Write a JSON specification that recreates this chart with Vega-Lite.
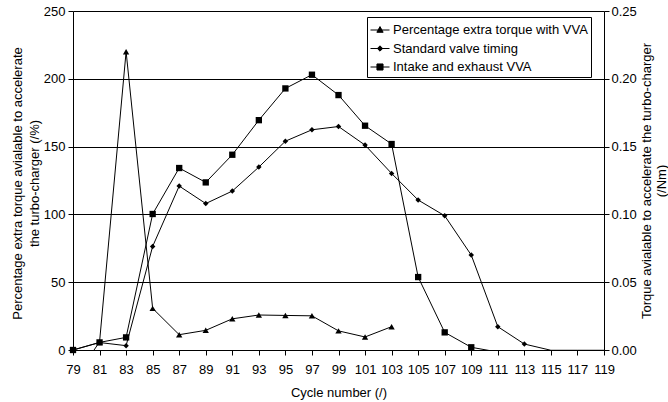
{
  "$schema": "https://vega.github.io/schema/vega-lite/v6.json",
  "width": 531,
  "height": 339,
  "autosize": {"type": "none"},
  "padding": {"left": 73, "top": 11, "right": 64, "bottom": 52},
  "background": "white",
  "config": {
    "view": {"stroke": null},
    "font": "Liberation Sans",
    "axis": {
      "domainColor": "black",
      "tickColor": "black",
      "labelColor": "black",
      "titleColor": "black",
      "gridColor": "black",
      "labelFont": "Liberation Sans",
      "titleFont": "Liberation Sans",
      "labelFontSize": 13,
      "titleFontSize": 13,
      "titleFontWeight": "normal",
      "tickSize": 5
    },
    "legend": {
      "labelFont": "Liberation Sans",
      "labelFontSize": 13,
      "labelColor": "black",
      "labelLimit": 0,
      "symbolStrokeColor": "black",
      "symbolStrokeWidth": 1
    }
  },
  "data": {
    "values": [
      {"cycle": 79, "series": "Percentage extra torque with VVA", "value": -23},
      {"cycle": 81, "series": "Percentage extra torque with VVA", "value": 6},
      {"cycle": 83, "series": "Percentage extra torque with VVA", "value": 220},
      {"cycle": 85, "series": "Percentage extra torque with VVA", "value": 30.7},
      {"cycle": 87, "series": "Percentage extra torque with VVA", "value": 11.3},
      {"cycle": 89, "series": "Percentage extra torque with VVA", "value": 14.5},
      {"cycle": 91, "series": "Percentage extra torque with VVA", "value": 23},
      {"cycle": 93, "series": "Percentage extra torque with VVA", "value": 25.8},
      {"cycle": 95, "series": "Percentage extra torque with VVA", "value": 25.5},
      {"cycle": 97, "series": "Percentage extra torque with VVA", "value": 25.2},
      {"cycle": 99, "series": "Percentage extra torque with VVA", "value": 14.1},
      {"cycle": 101, "series": "Percentage extra torque with VVA", "value": 9.6},
      {"cycle": 103, "series": "Percentage extra torque with VVA", "value": 17.2},
      {"cycle": 79, "series": "Standard valve timing", "value": 0},
      {"cycle": 81, "series": "Standard valve timing", "value": 0.0055},
      {"cycle": 83, "series": "Standard valve timing", "value": 0.0032},
      {"cycle": 85, "series": "Standard valve timing", "value": 0.0764},
      {"cycle": 87, "series": "Standard valve timing", "value": 0.1209},
      {"cycle": 89, "series": "Standard valve timing", "value": 0.108},
      {"cycle": 91, "series": "Standard valve timing", "value": 0.1172},
      {"cycle": 93, "series": "Standard valve timing", "value": 0.1349},
      {"cycle": 95, "series": "Standard valve timing", "value": 0.154},
      {"cycle": 97, "series": "Standard valve timing", "value": 0.1624},
      {"cycle": 99, "series": "Standard valve timing", "value": 0.1648},
      {"cycle": 101, "series": "Standard valve timing", "value": 0.1511},
      {"cycle": 103, "series": "Standard valve timing", "value": 0.1302},
      {"cycle": 105, "series": "Standard valve timing", "value": 0.1106},
      {"cycle": 107, "series": "Standard valve timing", "value": 0.099},
      {"cycle": 109, "series": "Standard valve timing", "value": 0.07},
      {"cycle": 111, "series": "Standard valve timing", "value": 0.0172},
      {"cycle": 113, "series": "Standard valve timing", "value": 0.0044},
      {"cycle": 115, "series": "Standard valve timing", "value": -0.0002},
      {"cycle": 117, "series": "Standard valve timing", "value": -0.0002},
      {"cycle": 119, "series": "Standard valve timing", "value": -0.0002},
      {"cycle": 79, "series": "Intake and exhaust VVA", "value": 0},
      {"cycle": 81, "series": "Intake and exhaust VVA", "value": 0.0056},
      {"cycle": 83, "series": "Intake and exhaust VVA", "value": 0.0093},
      {"cycle": 85, "series": "Intake and exhaust VVA", "value": 0.1003},
      {"cycle": 87, "series": "Intake and exhaust VVA", "value": 0.1342},
      {"cycle": 89, "series": "Intake and exhaust VVA", "value": 0.1236},
      {"cycle": 91, "series": "Intake and exhaust VVA", "value": 0.144},
      {"cycle": 93, "series": "Intake and exhaust VVA", "value": 0.1695},
      {"cycle": 95, "series": "Intake and exhaust VVA", "value": 0.1929},
      {"cycle": 97, "series": "Intake and exhaust VVA", "value": 0.203},
      {"cycle": 99, "series": "Intake and exhaust VVA", "value": 0.188},
      {"cycle": 101, "series": "Intake and exhaust VVA", "value": 0.1654},
      {"cycle": 103, "series": "Intake and exhaust VVA", "value": 0.1519},
      {"cycle": 105, "series": "Intake and exhaust VVA", "value": 0.0538},
      {"cycle": 107, "series": "Intake and exhaust VVA", "value": 0.013},
      {"cycle": 109, "series": "Intake and exhaust VVA", "value": 0.002},
      {"cycle": 111, "series": "Intake and exhaust VVA", "value": -0.0015},
      {"cycle": 113, "series": "Intake and exhaust VVA", "value": -0.0015},
      {"cycle": 115, "series": "Intake and exhaust VVA", "value": -0.0015},
      {"cycle": 117, "series": "Intake and exhaust VVA", "value": -0.0015},
      {"cycle": 119, "series": "Intake and exhaust VVA", "value": -0.0015}
    ]
  },
  "encoding": {
    "x": {
      "field": "cycle",
      "type": "quantitative",
      "scale": {"domain": [79, 119], "nice": false, "zero": false},
      "axis": {
        "title": "Cycle number (/)",
        "values": [79, 81, 83, 85, 87, 89, 91, 93, 95, 97, 99, 101, 103, 105, 107, 109, 111, 113, 115, 117, 119],
        "grid": false,
        "labelPadding": 8,
        "labelFlush": false,
        "labelOverlap": false,
        "titleY": 42,
        "titleBaseline": "middle"
      }
    }
  },
  "layer": [
    {
      "transform": [{"filter": "datum.series === 'Percentage extra torque with VVA'"}],
      "encoding": {
        "y": {
          "field": "value",
          "type": "quantitative",
          "scale": {"domain": [0, 250], "nice": false},
          "axis": {
            "title": ["Percentage extra torque avialable to accelerate", "the turbo-charger (/%)"],
            "values": [0, 50, 100, 150, 200, 250],
            "grid": true,
            "labelPadding": 3,
            "titleLineHeight": 17,
            "titleX": -56,
            "titleY": 172,
            "titleAngle": 270,
            "titleAlign": "center",
            "titleBaseline": "middle"
          }
        }
      },
      "layer": [
        {"mark": {"type": "line", "color": "black", "strokeWidth": 1, "clip": true}},
        {
          "transform": [{"filter": "datum.value >= 0"}],
          "mark": {"type": "point", "shape": "triangle-up", "filled": true, "color": "black", "opacity": 1, "size": 40}
        }
      ]
    },
    {
      "transform": [{"filter": "datum.series !== 'Percentage extra torque with VVA'"}],
      "encoding": {
        "y": {
          "field": "value",
          "type": "quantitative",
          "scale": {"domain": [0, 0.25], "nice": false},
          "axis": {
            "orient": "right",
            "title": ["Torque avialable to accelerate the turbo-charger", "(/Nm)"],
            "values": [0, 0.05, 0.1, 0.15, 0.2, 0.25],
            "format": ".2f",
            "grid": false,
            "labelPadding": 2,
            "titleLineHeight": 15,
            "titleX": 42,
            "titleY": 169.5,
            "titleAngle": 270,
            "titleAlign": "center",
            "titleBaseline": "middle"
          }
        }
      },
      "layer": [
        {
          "transform": [{"filter": "datum.series === 'Standard valve timing'"}],
          "mark": {"type": "line", "color": "black", "strokeWidth": 1, "clip": true}
        },
        {
          "transform": [{"filter": "datum.series === 'Standard valve timing' && datum.value >= 0"}],
          "mark": {"type": "point", "shape": "diamond", "filled": true, "color": "black", "opacity": 1, "size": 30}
        },
        {
          "transform": [{"filter": "datum.series === 'Intake and exhaust VVA'"}],
          "mark": {"type": "line", "color": "black", "strokeWidth": 1, "clip": true}
        },
        {
          "transform": [{"filter": "datum.series === 'Intake and exhaust VVA' && datum.value >= 0"}],
          "mark": {"type": "point", "shape": "square", "filled": true, "color": "black", "opacity": 1, "size": 40}
        },
        {
          "mark": {"type": "point", "filled": true, "color": "black", "clip": true},
          "encoding": {
            "opacity": {"value": 0},
            "shape": {
              "field": "series",
              "type": "nominal",
              "scale": {
                "domain": ["Percentage extra torque with VVA", "Standard valve timing", "Intake and exhaust VVA"],
                "range": [
                  "M-1,0L1,0M0,-0.36L0.33,0.24L-0.33,0.24Z",
                  "M-1,0L1,0M0,-0.28L0.28,0L0,0.28L-0.28,0Z",
                  "M-1,0L1,0M-0.32,-0.32L0.32,-0.32L0.32,0.32L-0.32,0.32Z"
                ]
              },
              "legend": {
                "title": null,
                "orient": "none",
                "legendX": 294,
                "legendY": 6,
                "padding": 3,
                "strokeColor": "black",
                "fillColor": "white",
                "symbolSize": 361,
                "symbolStrokeColor": "black",
                "symbolStrokeWidth": 1,
                "labelOffset": 3,
                "labelLimit": 0,
                "rowPadding": 1.5,
                "encoding": {
                  "symbols": {
                    "opacity": {"value": 1},
                    "fill": {"value": "black"},
                    "stroke": {"value": "black"},
                    "strokeWidth": {"value": 1},
                    "size": {"value": 361}
                  }
                }
              }
            }
          }
        }
      ]
    }
  ],
  "resolve": {"scale": {"y": "independent"}}
}
